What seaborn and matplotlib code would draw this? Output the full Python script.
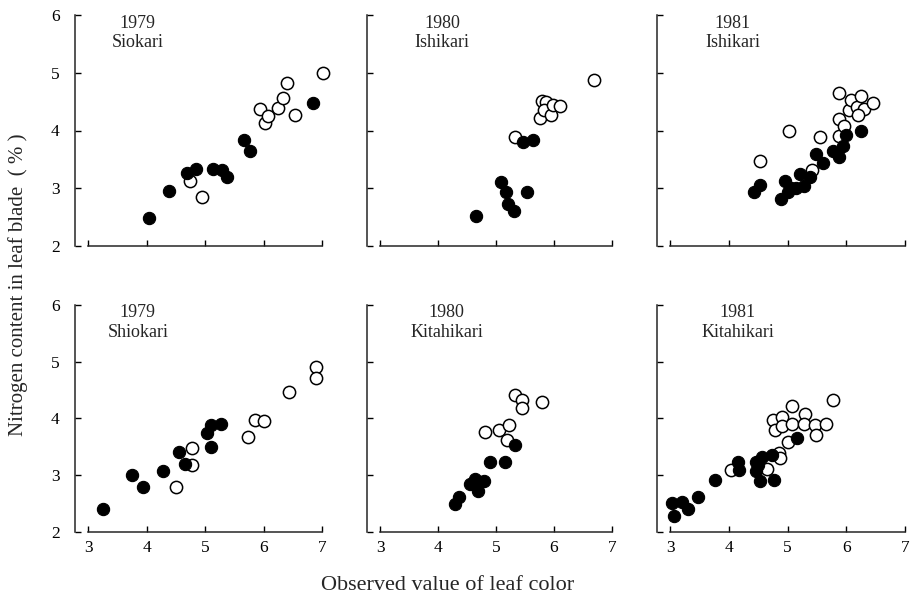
import numpy as np
import pandas as pd
import matplotlib
matplotlib.use("Agg")
import matplotlib.pyplot as plt
import seaborn as sns

# ---- data: leaf colour reading (x) vs. leaf-blade nitrogen % (y) ----
# filled = plants in one treatment group, open = the other
siokari79_fx = [4.05, 4.38, 4.69, 4.84, 5.14, 5.29, 5.37, 5.67, 5.77, 6.85]
siokari79_fy = [2.49, 2.95, 3.27, 3.34, 3.33, 3.31, 3.19, 3.83, 3.64, 4.47]
siokari79_ox = [4.74, 4.95, 5.94, 6.03, 6.07, 6.25, 6.34, 6.40, 6.53, 7.02]
siokari79_oy = [3.13, 2.84, 4.38, 4.13, 4.25, 4.39, 4.56, 4.83, 4.26, 5.00]

ishikari80_fx = [4.66, 5.08, 5.17, 5.20, 5.31, 5.53, 5.46, 5.64]
ishikari80_fy = [2.52, 3.11, 2.93, 2.73, 2.60, 2.93, 3.80, 3.83]
ishikari80_ox = [5.32, 5.75, 5.79, 5.86, 5.82, 5.94, 5.98, 6.10, 6.69]
ishikari80_oy = [3.89, 4.22, 4.51, 4.50, 4.36, 4.26, 4.45, 4.43, 4.87]

ishikari81_fx = [4.43, 4.54, 4.89, 4.95, 5.00, 5.06, 5.14, 5.21, 5.28, 5.38,
                 5.49, 5.61, 5.78, 5.87, 5.94, 6.00, 6.25]
ishikari81_fy = [2.94, 3.06, 2.82, 3.12, 2.94, 3.00, 3.00, 3.25, 3.04, 3.20,
                 3.60, 3.44, 3.64, 3.54, 3.73, 3.93, 4.00]
ishikari81_ox = [4.54, 5.03, 5.55, 5.42, 5.87, 5.87, 5.87, 5.97, 6.04, 6.08,
                 6.19, 6.25, 6.31, 6.20, 6.46]
ishikari81_oy = [3.47, 4.00, 3.88, 3.31, 4.20, 4.65, 3.90, 4.07, 4.35, 4.53,
                 4.40, 4.60, 4.38, 4.26, 4.48]

shiokari79_fx = [3.26, 3.75, 3.94, 4.28, 4.55, 4.65, 5.03, 5.10, 5.27, 5.10]
shiokari79_fy = [2.40, 3.00, 2.79, 3.07, 3.41, 3.20, 3.75, 3.89, 3.91, 3.49]
shiokari79_ox = [4.51, 4.77, 4.77, 5.73, 5.85, 6.01, 6.44, 6.89, 6.89]
shiokari79_oy = [2.80, 3.48, 3.18, 3.67, 3.98, 3.95, 4.47, 4.90, 4.72]

kitahikari80_fx = [4.29, 4.37, 4.55, 4.64, 4.69, 4.80, 4.72, 4.89, 5.16, 5.32]
kitahikari80_fy = [2.49, 2.61, 2.85, 2.93, 2.73, 2.89, 2.88, 3.24, 3.24, 3.54]
kitahikari80_ox = [4.81, 5.05, 5.22, 5.19, 5.32, 5.44, 5.44, 5.79]
kitahikari80_oy = [3.76, 3.80, 3.89, 3.62, 4.41, 4.33, 4.19, 4.29]

kitahikari81_fx = [3.04, 3.06, 3.21, 3.31, 3.47, 3.76, 4.16, 4.17, 4.47, 4.47,
                   4.54, 4.56, 4.73, 4.77, 4.50, 5.17]
kitahikari81_fy = [2.51, 2.29, 2.53, 2.41, 2.62, 2.91, 3.24, 3.09, 3.24, 3.07,
                   2.89, 3.33, 3.36, 2.92, 3.18, 3.65]
kitahikari81_ox = [4.04, 4.65, 4.85, 4.88, 4.75, 4.78, 4.90, 4.91, 5.01, 5.08,
                   5.08, 5.30, 5.28, 5.47, 5.49, 5.66, 5.77]
kitahikari81_oy = [3.09, 3.11, 3.39, 3.31, 3.97, 3.79, 4.02, 3.87, 3.59, 4.22,
                   3.90, 4.08, 3.91, 3.89, 3.71, 3.91, 4.33]

years = ["1979", "1980", "1981", "1979", "1980", "1981"]
cultivars = ["Siokari", "Ishikari", "Ishikari", "Shiokari", "Kitahikari", "Kitahikari"]
x_ticks = [3, 4, 5, 6, 7]
y_ticks = [2, 3, 4, 5, 6]

panels = [
    (siokari79_fx, siokari79_fy, siokari79_ox, siokari79_oy),
    (ishikari80_fx, ishikari80_fy, ishikari80_ox, ishikari80_oy),
    (ishikari81_fx, ishikari81_fy, ishikari81_ox, ishikari81_oy),
    (shiokari79_fx, shiokari79_fy, shiokari79_ox, shiokari79_oy),
    (kitahikari80_fx, kitahikari80_fy, kitahikari80_ox, kitahikari80_oy),
    (kitahikari81_fx, kitahikari81_fy, kitahikari81_ox, kitahikari81_oy),
]

frames = []
for i, (fx, fy, ox, oy) in enumerate(panels):
    frames.append(pd.DataFrame({"panel": i, "x": fx, "y": fy, "group": "filled"}))
    frames.append(pd.DataFrame({"panel": i, "x": ox, "y": oy, "group": "open"}))
df = pd.concat(frames, ignore_index=True)

# ---- styling ----
sns.set_theme(style="ticks")
plt.rcParams["font.family"] = ["Liberation Serif", "DejaVu Serif"]
plt.rcParams["axes.linewidth"] = 1.1

W, H = 913, 606
fig = plt.figure(figsize=(W / 100, H / 100), dpi=100)

XLIM = (2.78, 7.05)
YLIM = (2.0, 6.05)

# pixel anchors of the x=3 / x=7 ticks per column and y=2 / y=6 per row
col_px = [(88, 322), (380, 612), (670, 905)]
row_px = [(246, 15), (532, 305)]


def place(x3, x7, y2, y6):
    ppx = (x7 - x3) / 4.0
    ppy = (y2 - y6) / 4.0
    left = x3 - (3 - XLIM[0]) * ppx
    right = x7 + (XLIM[1] - 7) * ppx
    bottom = y2 - (YLIM[0] - 2) * ppy
    top = y6 - (YLIM[1] - 6) * ppy
    return [left / W, 1 - bottom / H, (right - left) / W, (bottom - top) / H]


for i in range(6):
    r, c = divmod(i, 3)
    ax = fig.add_axes(place(col_px[c][0], col_px[c][1], row_px[r][0], row_px[r][1]))
    sub = df[df["panel"] == i]
    sns.scatterplot(data=sub[sub["group"] == "open"], x="x", y="y", ax=ax,
                    s=78, color="white", edgecolor="black", linewidth=1.1,
                    clip_on=False, zorder=3)
    sns.scatterplot(data=sub[sub["group"] == "filled"], x="x", y="y", ax=ax,
                    s=78, color="black", edgecolor="black", linewidth=0.8,
                    clip_on=False, zorder=4)
    ax.set_xlim(*XLIM)
    ax.set_ylim(*YLIM)
    ax.set_xticks(x_ticks)
    ax.set_yticks(y_ticks)
    ax.set_xlabel("")
    ax.set_ylabel("")
    sns.despine(ax=ax)
    ax.spines["left"].set_bounds(2, 6)
    ax.spines["bottom"].set_bounds(3, 7)
    ax.tick_params(direction="in", length=4, width=1.0, colors="black",
                   labelsize=12.5)
    ax.tick_params(axis="y", pad=11)
    ax.tick_params(axis="x", pad=6)
    if c != 0:
        ax.set_yticklabels([])
    if r != 1:
        ax.set_xticklabels([])
    tx = 3.85 if c == 0 else (4.07 if r == 0 else 4.15)
    ax.text(tx, 5.86, years[i], ha="center", va="center", fontsize=13)
    ax.text(tx, 5.52, cultivars[i], ha="center", va="center", fontsize=13)

fig.text(448 / W, 1 - 586 / H, "Observed value of leaf color",
         ha="center", va="center", fontsize=16)
fig.text(18 / W, 1 - 285 / H, "Nitrogen content in leaf blade  ( % )",
         ha="center", va="center", rotation=90, fontsize=15)

fig.savefig("out.png", dpi=100, facecolor="white")
